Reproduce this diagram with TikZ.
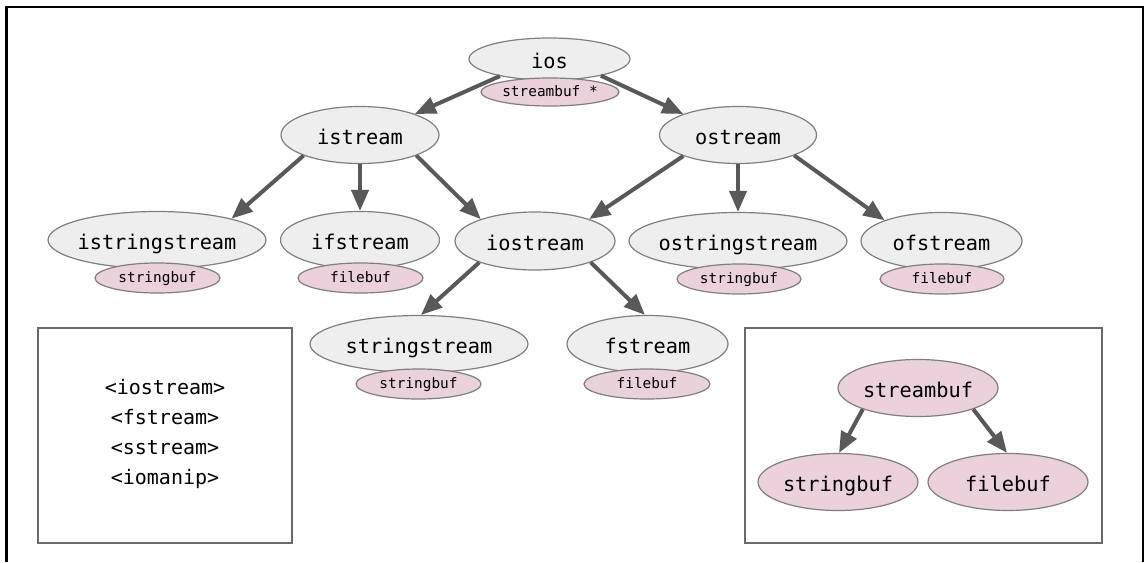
\documentclass[tikz,border=0pt]{standalone}
\usepackage{fontspec}
\setmonofont{DejaVu Sans Mono}
\usetikzlibrary{shapes.geometric,arrows.meta}
\definecolor{nodefill}{HTML}{EEEEEE}
\definecolor{subfill}{HTML}{EAD1DC}
\definecolor{edgegray}{HTML}{7F7F7F}
\definecolor{arrowgray}{HTML}{595959}
\definecolor{boxgray}{HTML}{6A6A6A}
\newcommand\nlab[1]{\makebox[0pt]{#1}}
\tikzset{
  mainell/.style={ellipse, draw=edgegray, line width=1.2pt, fill=nodefill, inner sep=0pt,
    font=\ttfamily\fontsize{20.3}{24}\selectfont, text height=18pt, text depth=0pt,
    minimum height=57pt},
  subell/.style={ellipse, draw=edgegray, line width=1.2pt, fill=subfill, inner sep=0pt,
    font=\ttfamily\fontsize{14.4}{17}\selectfont, text height=8.8pt, text depth=0pt,
    minimum width=125pt, minimum height=30pt},
  bufell/.style={mainell, fill=subfill, minimum width=160pt},
  arr/.style={draw=arrowgray, line width=4pt, -{Triangle[length=21pt,width=17pt]}},
  hbox/.style={rectangle, draw=boxgray, line width=2pt, fill=white, inner sep=0pt}
}
\begin{document}
\begin{tikzpicture}[x=1pt,y=-1pt]
\useasboundingbox (0,0) rectangle (1145,562);
\fill[white] (0,0) rectangle (1145,562);
% outer frame (open at the bottom)
\draw[black, line width=2.5pt, line join=miter] (6.5,562) -- (6.5,7) -- (1143,7) -- (1143,562);

% boxes
\node[hbox, minimum width=254pt, minimum height=215pt] (leftbox) at (165,435.5) {};
\node[hbox, minimum width=356.5pt, minimum height=215pt] (rightbox) at (923.25,435.5) {};

% main ellipses
\node[mainell, minimum width=161pt, minimum height=42pt] (ios) at (549.5,59) {\nlab{ios}};
\node[mainell, minimum width=158pt] (istream) at (360,135) {\nlab{istream}};
\node[mainell, minimum width=157pt] (ostream) at (738,135) {\nlab{ostream}};
\node[mainell, minimum width=218pt] (istringstream) at (157,240) {\nlab{istringstream}};
\node[mainell, minimum width=159pt] (ifstream) at (360,240) {\nlab{ifstream}};
\node[mainell, minimum width=160pt, minimum height=58pt] (iostream) at (535,241) {\nlab{iostream}};
\node[mainell, minimum width=218pt] (ostringstream) at (738,241) {\nlab{ostringstream}};
\node[mainell, minimum width=161pt] (ofstream) at (941.5,241) {\nlab{ofstream}};
\node[mainell, minimum width=218pt] (stringstream) at (419,344) {\nlab{stringstream}};
\node[mainell, minimum width=161pt] (fstream) at (647.5,344) {\nlab{fstream}};

% buffer hierarchy
\node[bufell] (streambuf) at (918,388) {\nlab{streambuf}};
\node[bufell] (stringbuf) at (838,482) {\nlab{stringbuf}};
\node[bufell] (filebuf) at (1008,482) {\nlab{filebuf}};

% arrows
\draw[arr] (ios.199) -- (istream.21);
\draw[arr] (ios.342) -- (ostream.159);
\draw[arr] (istream.200) -- (istringstream.16);
\draw[arr] (istream.south) -- (ifstream.north);
\draw[arr] (istream.340) -- (iostream.158);
\draw[arr] (ostream.201) -- (iostream.22);
\draw[arr] (ostream.south) -- (ostringstream.north);
\draw[arr] (ostream.340) -- (ofstream.160);
\draw[arr] (iostream.201) -- (stringstream.86);
\draw[arr] (iostream.339) -- (fstream.95);
\draw[arr] (streambuf.201) -- (stringbuf.88);
\draw[arr] (streambuf.339) -- (filebuf.92);

% sub ellipses
\node[subell, minimum width=138pt, minimum height=28pt] (iosb) at (550,92) {\nlab{streambuf *}};
\node[subell] (istringstreamb) at (157.5,278) {\nlab{stringbuf}};
\node[subell] (ifstreamb) at (360.5,278) {\nlab{filebuf}};
\node[subell, minimum width=124pt] (ostringstreamb) at (739,279) {\nlab{stringbuf}};
\node[subell, minimum width=124pt] (ofstreamb) at (942,279) {\nlab{filebuf}};
\node[subell] (stringstreamb) at (418.5,384) {\nlab{stringbuf}};
\node[subell, minimum width=126pt] (fstreamb) at (647,384) {\nlab{filebuf}};

% headers list
\node[align=center, inner sep=0pt, font=\ttfamily\fontsize{20}{30}\selectfont] (headers) at (165,434)
  {<iostream>\\<fstream>\\<sstream>\\<iomanip>};
\end{tikzpicture}
\end{document}
